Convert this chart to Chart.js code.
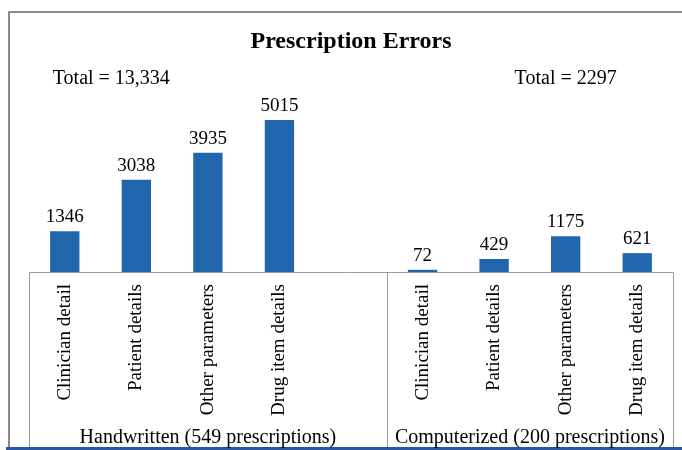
<!DOCTYPE html>
<html>
<head>
<meta charset="utf-8">
<script src="https://cdn.jsdelivr.net/npm/chart.js@4/dist/chart.umd.min.js"></script>
<style>
html,body{margin:0;padding:0;background:#fff;}
#wrap{width:682px;height:450px;position:relative;}
</style>
</head>
<body>
<div id="wrap"><canvas id="c" width="682" height="450"></canvas></div>
<script>
// ---- data ----
const titleText = "Prescription Errors";
const categories = ["Clinician detail","Patient details","Other parameters","Drug item details","",
                    "Clinician detail","Patient details","Other parameters","Drug item details"];
const errorCounts = [1346, 3038, 3935, 5015, null, 72, 429, 1175, 621];
const groupLabels = ["Handwritten (549 prescriptions)", "Computerized (200 prescriptions)"];
const groupTotals = ["Total = 13,334", "Total = 2297"];
const groupStart = [0, 5];   // first category index of each group
const groupSize = [5, 4];

const SERIF = '"Liberation Serif", "Times New Roman", serif';

const decor = {
  id: 'decor',
  afterDraw(chart) {
    const ctx = chart.ctx;
    const xs = chart.scales.x;
    const area = chart.chartArea;
    const slot = (xs.getPixelForValue(1) - xs.getPixelForValue(0));
    const edge = i => xs.getPixelForValue(i) - slot / 2;
    ctx.save();
    // outer frame (left + top)
    ctx.strokeStyle = '#8a8a8a';
    ctx.lineWidth = 2;
    ctx.beginPath();
    ctx.moveTo(9, 450); ctx.lineTo(9, 12); ctx.lineTo(682, 12);
    ctx.stroke();
    // axis box
    ctx.strokeStyle = '#9a9a9a';
    ctx.lineWidth = 1;
    const yb = Math.round(area.bottom) + 0.5;
    const xl = Math.round(edge(0)) + 0.5;
    const xm = Math.round(edge(groupStart[1])) + 0.5;
    const xr = Math.round(edge(categories.length)) + 0.5;
    ctx.beginPath();
    ctx.moveTo(xl, 450); ctx.lineTo(xl, yb); ctx.lineTo(xr, yb); ctx.lineTo(xr, 450);
    ctx.moveTo(xm, yb); ctx.lineTo(xm, 450);
    ctx.stroke();
    // bottom blue line
    ctx.fillStyle = '#2b55a0';
    ctx.fillRect(6, 447, 676, 3);
    // title
    ctx.fillStyle = '#000';
    ctx.textBaseline = 'alphabetic';
    ctx.textAlign = 'center';
    ctx.font = 'bold 24px ' + SERIF;
    ctx.fillText(titleText, (area.left + area.right) / 2, 48);
    // totals
    ctx.font = '20px ' + SERIF;
    ctx.textAlign = 'left';
    ctx.fillText(groupTotals[0], xs.getPixelForValue(0) - 12, 84);
    ctx.textAlign = 'center';
    ctx.fillText(groupTotals[1], xs.getPixelForValue(7), 84);
    // group labels
    ctx.font = '20px ' + SERIF;
    for (let g = 0; g < groupLabels.length; g++) {
      const a = edge(groupStart[g]), b = edge(groupStart[g] + groupSize[g]);
      ctx.fillText(groupLabels[g], (a + b) / 2, 443);
    }
    // value labels
    ctx.font = '19px ' + SERIF;
    const meta = chart.getDatasetMeta(0);
    meta.data.forEach((bar, i) => {
      const v = errorCounts[i];
      if (v === null || v === undefined) return;
      ctx.fillText(String(v), bar.x, bar.y - 9);
    });
    ctx.restore();
  }
};

new Chart(document.getElementById('c'), {
  type: 'bar',
  data: {
    labels: categories,
    datasets: [{
      data: errorCounts,
      backgroundColor: '#2166ac',
      borderWidth: 0,
      categoryPercentage: 1,
      barPercentage: 0.41
    }]
  },
  options: {
    responsive: false,
    animation: false,
    devicePixelRatio: 1,
    layout: { padding: { left: 29, right: 9, top: 90, bottom: 0 } },
    plugins: { legend: { display: false }, title: { display: false }, tooltip: { enabled: false } },
    scales: {
      y: { display: false, min: 0, max: 6000 },
      x: {
        grid: { display: false, drawTicks: false },
        border: { display: false },
        ticks: {
          autoSkip: false,
          maxRotation: 90, minRotation: 90,
          padding: 12,
          color: '#000',
          font: { family: SERIF, size: 19 }
        },
        afterFit(scale) { scale.height = 178; }
      }
    }
  },
  plugins: [decor]
});
</script>
</body>
</html>
